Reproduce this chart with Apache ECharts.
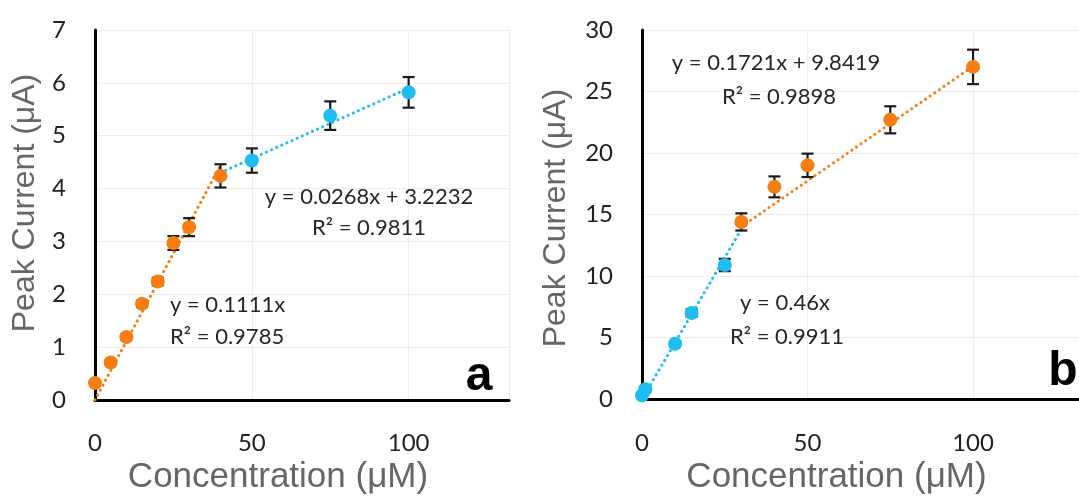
<!DOCTYPE html>
<html>
<head>
<meta charset="utf-8">
<script src="https://cdn.jsdelivr.net/npm/echarts@6/dist/echarts.min.js"></script>
<style>html,body{margin:0;padding:0;background:#fff}#c{width:1079px;height:500px}</style>
</head>
<body>
<div id="c"></div>
<script>
// ---- Data ----
// Panel a
const aOrangeX = [0, 5, 10, 15, 20, 25, 30, 40];
const aOrangeY = [0.32, 0.71, 1.19, 1.82, 2.24, 2.97, 3.27, 4.24];
const aOrangeErr = [0.04, 0.04, 0.05, 0.06, 0.07, 0.13, 0.17, 0.22];
const aBlueX = [50, 75, 100];
const aBlueY = [4.53, 5.38, 5.82];
const aBlueErr = [0.23, 0.27, 0.29];
const aTrendLow = [[0, 0], [40, 4.44]];      // y = 0.1111x
const aTrendHigh = [[40, 4.30], [100, 5.90]]; // y = 0.0268x + 3.2232
const aEqLow = ['y = 0.1111x', 'R² = 0.9785'];
const aEqHigh = ['y = 0.0268x + 3.2232', 'R² = 0.9811'];
// Panel b
const bBlueX = [0, 1, 10, 15, 25];
const bBlueY = [0.3, 0.8, 4.5, 7.0, 10.9];
const bBlueErr = [0.2, 0.2, 0.2, 0.3, 0.5];
const bOrangeX = [30, 40, 50, 75, 100];
const bOrangeY = [14.4, 17.25, 19.0, 22.7, 27.0];
const bOrangeErr = [0.7, 0.85, 0.95, 1.1, 1.4];
const bTrendLow = [[0, 0], [30, 13.8]];        // y = 0.46x
const bTrendHigh = [[30, 14.01], [100, 27.05]]; // y = 0.1721x + 9.8419
const bEqLow = ['y = 0.46x', 'R² = 0.9911'];
const bEqHigh = ['y = 0.1721x + 9.8419', 'R² = 0.9898'];
// Axes
const xTitle = 'Concentration (μM)';
const yTitle = 'Peak Current (μA)';
const panelLabels = ['a', 'b'];

const ORANGE = '#F57D12';
const BLUE = '#1DBDF0';
const TICKFONT = 'Lato';

const chart = echarts.init(document.getElementById('c'), null, {renderer: 'canvas'});

function pts(X, Y) { return X.map((x, i) => [x, Y[i]]); }
function errs(X, Y, E) { return X.map((x, i) => [x, Y[i] - E[i], Y[i] + E[i]]); }

function errSeries(idx, data) {
  return {
    type: 'custom', xAxisIndex: idx, yAxisIndex: idx, z: 3, silent: true,
    data: data,
    renderItem: function (params, api) {
      const x = api.value(0);
      const top = api.coord([x, api.value(2)]);
      const bot = api.coord([x, api.value(1)]);
      const w = 6;
      const st = {stroke: '#1a1a1a', lineWidth: 2.2};
      return {type: 'group', children: [
        {type: 'line', shape: {x1: top[0], y1: top[1], x2: bot[0], y2: bot[1]}, style: st},
        {type: 'line', shape: {x1: top[0] - w, y1: top[1], x2: top[0] + w, y2: top[1]}, style: st},
        {type: 'line', shape: {x1: bot[0] - w, y1: bot[1], x2: bot[0] + w, y2: bot[1]}, style: st}
      ]};
    }
  };
}
function scatterSeries(idx, data, color) {
  return {type: 'scatter', xAxisIndex: idx, yAxisIndex: idx, z: 4, symbolSize: 14,
    itemStyle: {color: color, opacity: 1}, data: data};
}
function trendSeries(idx, data, color) {
  return {type: 'line', xAxisIndex: idx, yAxisIndex: idx, z: 2, symbol: 'none', silent: true,
    lineStyle: {color: color, width: 3, type: [0.1, 5.5], cap: 'round'}, data: data};
}

function xAxis(idx, nameGap, labelMargin) {
  return {
    type: 'value', gridIndex: idx, min: 0, max: 132, interval: 50,
    axisLine: {show: true, onZero: false, lineStyle: {color: '#000', width: 3}},
    axisTick: {show: false},
    axisLabel: {fontFamily: TICKFONT, fontSize: 24, color: '#222222', margin: labelMargin, showMaxLabel: false},
    splitLine: {show: true, lineStyle: {color: '#ececec', width: 1}},
    name: xTitle, nameLocation: 'middle', nameGap: nameGap,
    nameTextStyle: {fontFamily: 'Liberation Sans', fontSize: 35, color: '#666666', padding: [0, 48, 0, 0]}
  };
}
function yAxis(idx, max, interval, nameGap, pad) {
  return {
    type: 'value', gridIndex: idx, min: 0, max: max, interval: interval,
    axisLine: {show: true, lineStyle: {color: '#000', width: 3}},
    axisTick: {show: false},
    axisLabel: {fontFamily: TICKFONT, fontSize: 24, color: '#222222', margin: 29},
    splitLine: {show: true, lineStyle: {color: '#ececec', width: 1}},
    name: yTitle, nameLocation: 'middle', nameGap: nameGap,
    nameTextStyle: {fontFamily: 'Liberation Sans', fontSize: 32, color: '#666666', padding: pad}
  };
}

function txt(x, y, s, align) {
  return {type: 'text', x: x, y: y, z: 10,
    style: {text: s, fontFamily: TICKFONT, fontSize: 22, fill: '#262626', align: align || 'center', verticalAlign: 'middle'}};
}
function big(x, y, s) {
  return {type: 'text', x: x, y: y, z: 10,
    style: {text: s, fontFamily: 'Liberation Sans', fontWeight: 'bold', fontSize: 48, fill: '#000', align: 'center', verticalAlign: 'middle'}};
}

chart.setOption({
  animation: false,
  backgroundColor: '#fff',
  grid: [
    {left: 95, top: 30, width: 414, height: 370},
    {left: 642, top: 30, width: 438, height: 373}
  ],
  xAxis: [xAxis(0, 54, 31), xAxis(1, 56, 32)],
  yAxis: [yAxis(0, 7, 1, 54, [0, 0, 0, 24]), yAxis(1, 30, 5, 70, [0, 7, 0, 0])],
  series: [
    trendSeries(0, aTrendLow, ORANGE),
    trendSeries(0, aTrendHigh, BLUE),
    errSeries(0, errs(aOrangeX, aOrangeY, aOrangeErr)),
    errSeries(0, errs(aBlueX, aBlueY, aBlueErr)),
    scatterSeries(0, pts(aOrangeX, aOrangeY), ORANGE),
    scatterSeries(0, pts(aBlueX, aBlueY), BLUE),
    trendSeries(1, bTrendLow, BLUE),
    trendSeries(1, bTrendHigh, ORANGE),
    errSeries(1, errs(bBlueX, bBlueY, bBlueErr)),
    errSeries(1, errs(bOrangeX, bOrangeY, bOrangeErr)),
    scatterSeries(1, pts(bBlueX, bBlueY), BLUE),
    scatterSeries(1, pts(bOrangeX, bOrangeY), ORANGE)
  ],
  graphic: [
    txt(369, 197, aEqHigh[0]),
    txt(369, 228, aEqHigh[1]),
    txt(170, 305, aEqLow[0], 'left'),
    txt(170, 337, aEqLow[1], 'left'),
    txt(776, 63, bEqHigh[0]),
    txt(779, 97, bEqHigh[1]),
    txt(785, 303, bEqLow[0]),
    txt(787, 337, bEqLow[1]),
    big(479, 377, panelLabels[0]),
    big(1063, 372, panelLabels[1])
  ]
});
</script>
</body>
</html>
